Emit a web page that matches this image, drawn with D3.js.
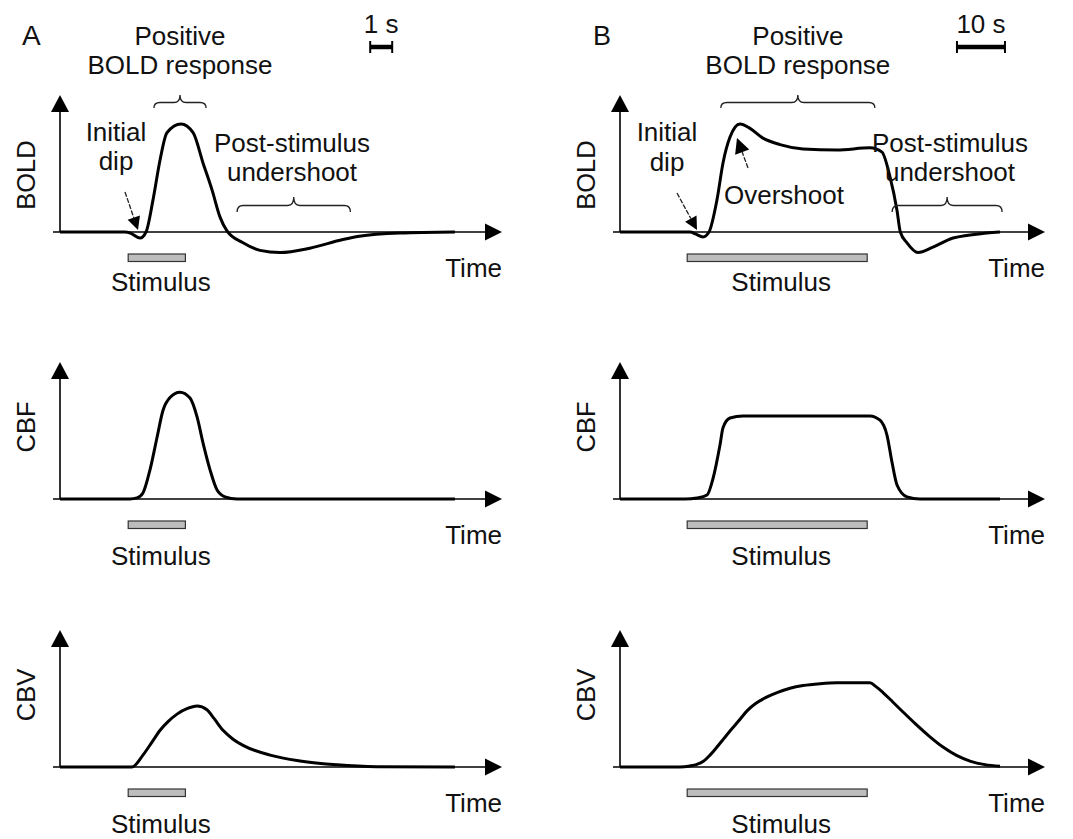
<!DOCTYPE html>
<html>
<head>
<meta charset="utf-8">
<script src="https://cdn.jsdelivr.net/npm/d3@7/dist/d3.min.js"></script>
<style>
  html, body { margin: 0; padding: 0; background: #fff; }
  svg { display: block; }
  text { font-family: "Liberation Sans", Arial, Helvetica, sans-serif; fill: #111; }
</style>
</head>
<body>
<svg id="chart" width="1073" height="839"></svg>
<script>
// ---------------- DATA (time in s, response in arbitrary units) ----------------
const boldA = [[0,0],[2.95,0],[3.2,-0.01],[3.64,-0.056],[3.91,0],[4.23,0.30],[4.55,0.67],[4.86,0.92],
  [5.5,1.0],[6.05,0.92],[6.5,0.64],[6.91,0.39],[7.27,0.14],[7.59,0.01],[8.32,-0.10],[9.09,-0.17],
  [10.0,-0.19],[11.36,-0.15],[12.86,-0.07],[13.6,-0.04],[15.45,-0.01],[17.95,0]];
const boldB = [[0,0],[14.58,0],[15.83,-0.02],[17.29,-0.046],[18.54,0],[20.21,0.30],[21.46,0.64],[22.92,0.88],
  [25.0,1.0],[27.08,0.96],[29.79,0.87],[33.33,0.81],[38.13,0.77],[45.21,0.76],[52.08,0.78],[54.58,0.74],
  [56.25,0.51],[57.71,0.20],[58.4,0.0],[59.79,-0.10],[62.08,-0.19],[65.21,-0.14],[69.38,-0.056],
  [76.46,-0.01],[79.17,0]];
const cbfA = [[0,0],[3.18,0],[3.5,0.01],[3.77,0.056],[4.09,0.27],[4.41,0.57],[4.68,0.82],[5.0,0.94],
  [5.45,0.99],[5.91,0.935],[6.23,0.76],[6.5,0.52],[6.82,0.27],[7.14,0.083],[7.5,0.02],[8.05,0],[17.95,0]];
const cbfB = [[0,0],[13.54,0],[16.04,0.01],[18.13,0.037],[19.38,0.19],[20.83,0.5],[21.46,0.66],[22.92,0.75],
  [25.63,0.77],[52.08,0.77],[54.17,0.73],[55.63,0.59],[56.67,0.34],[57.71,0.13],[59.79,0.02],[62.5,0],[79.17,0]];
const cbvA = [[0,0],[3.27,0],[3.77,0.11],[4.18,0.23],[4.55,0.34],[4.91,0.42],[5.32,0.49],[5.77,0.54],
  [6.23,0.565],[6.68,0.53],[7.0,0.45],[7.41,0.34],[7.85,0.26],[8.32,0.2],[9.55,0.11],[10.91,0.056],
  [12.59,0.02],[14.41,0.003],[17.95,0]];
const cbvB = [[0,0],[12.5,0],[14.58,0.01],[16.04,0.025],[17.29,0.05],[18.75,0.11],[20.21,0.185],[21.67,0.265],
  [23.13,0.345],[24.79,0.43],[26.46,0.52],[28.33,0.59],[30.42,0.645],[32.71,0.69],[35.42,0.73],[38.13,0.755],
  [41.67,0.772],[45.21,0.78],[52.08,0.78],[53.33,0.745],[54.79,0.69],[56.88,0.60],[58.96,0.51],[61.67,0.395],
  [64.58,0.28],[67.29,0.185],[70.21,0.105],[72.92,0.055],[76.04,0.022],[79.17,0.008]];

const stimulusA = [3.1, 5.7];
const stimulusB = [14, 51.5];
const scaleBarA = { len: 1, label: "1 s" };
const scaleBarB = { len: 10, label: "10 s" };
const rowLabels = ["BOLD", "CBF", "CBV"];
const panelLetters = ["A", "B"];
// annotation time spans (s)
const posBraceA = [4.27, 6.64], undBraceA = [8.05, 13.2];
const posBraceB = [21.0, 53.1], undBraceB = [56.7, 79.6];

// ---------------- LAYOUT ----------------
const svg = d3.select("#chart");
const FS = 26;
const rowBase = [232, 499, 767];
const yHeight = 137;
const colAxisX = [60, 620];
const colAxisEnd = [502, 1045];

const xA = d3.scaleLinear().domain([0, 20]).range([60, 500]);
const xB = d3.scaleLinear().domain([0, 88]).range([620, 620 + 88 * 4.8]);
const xs = [xA, xB];
const yScales = rowBase.map(b => d3.scaleLinear().domain([0, 1.26]).range([b, b - 136]));

const series = [[boldA, boldB], [cbfA, cbfB], [cbvA, cbvB]];
const stimuli = [stimulusA, stimulusB];

function arrowHead(g, tipX, tipY, dir, len, half) {
  let pts;
  if (dir === "right") pts = [[tipX, tipY], [tipX - len, tipY - half], [tipX - len, tipY + half]];
  else pts = [[tipX, tipY], [tipX - half, tipY + len], [tipX + half, tipY + len]];
  g.append("path").attr("d", "M" + pts.map(p => p.join(",")).join("L") + "Z").attr("fill", "#000");
}

function brace(g, x1, x2, yTip, yEnd) {
  const cx = (x1 + x2) / 2, yMid = (yTip + yEnd) / 2 + 1, r = 6;
  const d = `M${x1},${yEnd} Q${x1},${yMid} ${x1 + r},${yMid} L${cx - r},${yMid} Q${cx},${yMid} ${cx},${yTip}` +
            ` Q${cx},${yMid} ${cx + r},${yMid} L${x2 - r},${yMid} Q${x2},${yMid} ${x2},${yEnd}`;
  g.append("path").attr("d", d).attr("fill", "none").attr("stroke", "#222").attr("stroke-width", 1.3);
}

function pointer(g, x1, y1, x2, y2, len, half) {
  const ang = Math.atan2(y2 - y1, x2 - x1);
  const bx = x2 - len * Math.cos(ang), by = y2 - len * Math.sin(ang);
  g.append("line").attr("x1", x1).attr("y1", y1).attr("x2", bx).attr("y2", by)
    .attr("stroke", "#222").attr("stroke-width", 1.3).attr("stroke-dasharray", "5,1.5");
  const px = -Math.sin(ang) * half, py = Math.cos(ang) * half;
  g.append("path").attr("d", `M${x2},${y2}L${bx + px},${by + py}L${bx - px},${by - py}Z`).attr("fill", "#000");
}

function text(g, x, y, s, anchor, size) {
  return g.append("text").attr("x", x).attr("y", y).attr("text-anchor", anchor || "middle")
    .attr("font-size", size || FS).text(s);
}

const line = d3.line().curve(d3.curveMonotoneX);

for (let c = 0; c < 2; c++) {
  const x = xs[c];
  for (let r = 0; r < 3; r++) {
    const y = yScales[r];
    const g = svg.append("g");
    const base = rowBase[r];
    const ax = colAxisX[c];
    // axes
    g.append("line").attr("x1", ax - 7).attr("y1", base).attr("x2", colAxisEnd[c] - 14).attr("y2", base)
      .attr("stroke", "#000").attr("stroke-width", 1.6);
    arrowHead(g, colAxisEnd[c], base, "right", 17, 8.5);
    g.append("line").attr("x1", ax).attr("y1", base).attr("x2", ax).attr("y2", base - yHeight + 14)
      .attr("stroke", "#000").attr("stroke-width", 1.6);
    arrowHead(g, ax, base - yHeight, "up", 17, 9);
    // curve
    const data = series[r][c];
    g.append("path").attr("d", line.x(d => x(d[0])).y(d => y(d[1]))(data))
      .attr("fill", "none").attr("stroke", "#000").attr("stroke-width", 3).attr("stroke-linejoin", "round");
    // stimulus bar
    const st = stimuli[c];
    g.append("rect").attr("x", x(st[0])).attr("y", base + 22).attr("width", x(st[1]) - x(st[0])).attr("height", 7.5)
      .attr("fill", "#bdbdbd").attr("stroke", "#333").attr("stroke-width", 1.2);
    const stimBase = r === 0 ? base + 59 : base + 66;
    text(g, (x(st[0]) + x(st[1])) / 2 + 4, stimBase, "Stimulus");
    text(g, colAxisEnd[c], base + 45, "Time", "end");
    // row label
    const lblY = r === 0 ? base - 57 : base - 72;
    g.append("text").attr("transform", `translate(${ax - 25},${lblY}) rotate(-90)`)
      .attr("text-anchor", "middle").attr("font-size", 25.5).text(rowLabels[r]);
  }
}

// panel letters
text(svg, 22, 45, panelLetters[0], "start", 28);
text(svg, 593, 45, panelLetters[1], "start", 27);

// scale bars
function scaleBar(x, t0, sb, yBar, txtY) {
  const x1 = x(t0), x2 = x(t0 + sb.len);
  const g = svg.append("g");
  g.append("line").attr("x1", x1).attr("x2", x2).attr("y1", yBar).attr("y2", yBar).attr("stroke", "#000").attr("stroke-width", 4.5);
  g.append("line").attr("x1", x1).attr("x2", x1).attr("y1", yBar - 6).attr("y2", yBar + 6).attr("stroke", "#000").attr("stroke-width", 2);
  g.append("line").attr("x1", x2).attr("x2", x2).attr("y1", yBar - 6).attr("y2", yBar + 6).attr("stroke", "#000").attr("stroke-width", 2);
  text(g, (x1 + x2) / 2, txtY, sb.label);
}
scaleBar(xA, 14.1, scaleBarA, 47, 33);
scaleBar(xB, 70.2, scaleBarB, 47, 33);

// annotations A
const gA = svg.append("g");
text(gA, xA((posBraceA[0] + posBraceA[1]) / 2), 45, "Positive");
text(gA, xA((posBraceA[0] + posBraceA[1]) / 2), 74, "BOLD response");
brace(gA, xA(posBraceA[0]), xA(posBraceA[1]), 95, 108);
text(gA, 116, 141, "Initial");
text(gA, 116, 170, "dip");
pointer(gA, 125, 192, 138, 230, 13, 6.5);
text(gA, 292, 152, "Post-stimulus");
text(gA, 292, 181, "undershoot");
brace(gA, xA(undBraceA[0]), xA(undBraceA[1]), 197, 212);

// annotations B
const gB = svg.append("g");
text(gB, xB((posBraceB[0] + posBraceB[1]) / 2), 45, "Positive");
text(gB, xB((posBraceB[0] + posBraceB[1]) / 2), 74, "BOLD response");
brace(gB, xB(posBraceB[0]), xB(posBraceB[1]), 95, 108);
text(gB, 667, 141, "Initial");
text(gB, 667, 171, "dip");
pointer(gB, 677, 193, 697, 230, 13, 6.5);
text(gB, 784, 204, "Overshoot");
pointer(gB, 748, 168, 737, 138, 15, 7.5);
text(gB, 950, 152, "Post-stimulus");
text(gB, 950, 181, "undershoot");
brace(gB, xB(undBraceB[0]), xB(undBraceB[1]), 197, 212);
</script>
</body>
</html>
